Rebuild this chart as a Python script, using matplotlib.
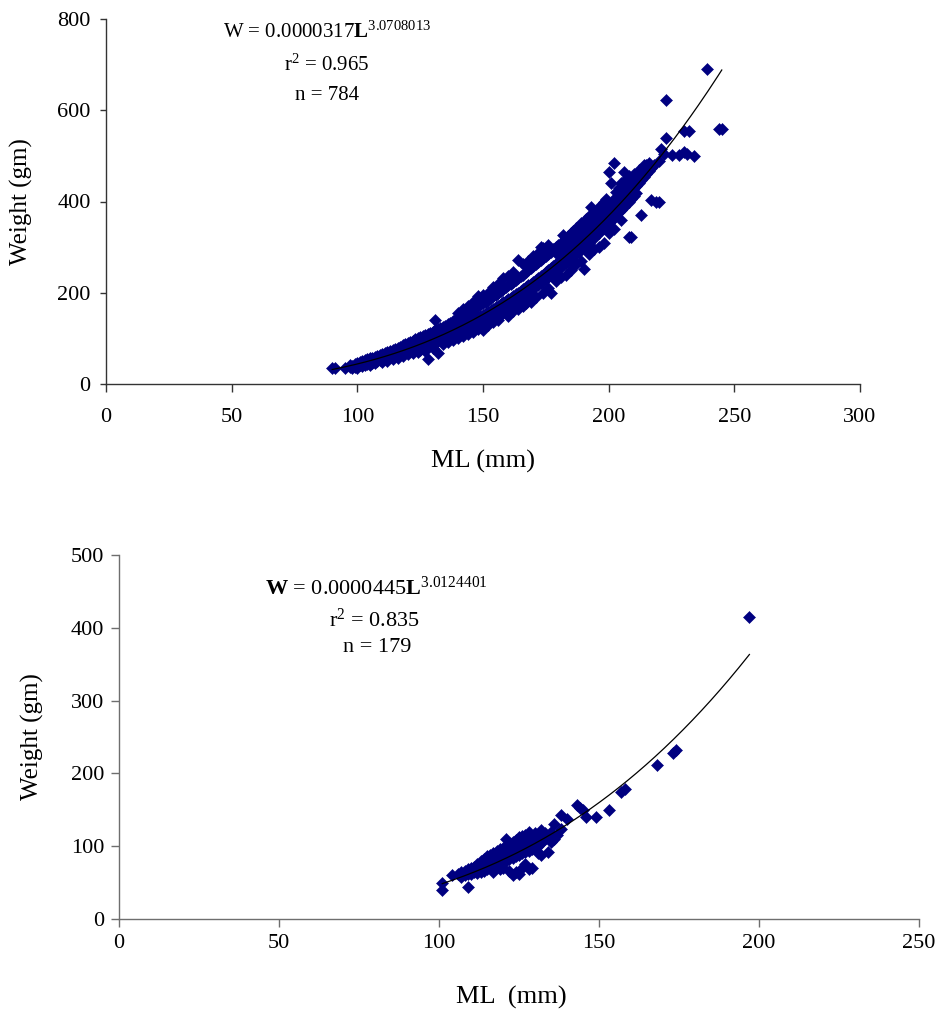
import numpy as np
import matplotlib.pyplot as plt

plt.rcParams['font.family'] = ['Liberation Serif', 'DejaVu Serif']
plt.rcParams['mathtext.fontset'] = 'custom'
plt.rcParams['mathtext.rm'] = 'Liberation Serif'
plt.rcParams['mathtext.it'] = 'Liberation Serif:italic'
plt.rcParams['mathtext.bf'] = 'Liberation Serif:bold'

# -------------------------------
# Data: mantle length (mm) and weight (gm)
# -------------------------------

# top panel (n = 784), weights grouped by length
top_len = [
    90, 91, 95, 97, 98, 99, 100, 101, 102, 103,
    104, 105, 106, 107, 108, 109, 110, 111, 112, 113,
    114, 115, 116, 117, 118, 119, 120, 121, 122, 123,
    124, 125, 126, 127, 128, 129, 130, 131, 132, 133,
    134, 135, 136, 137, 138, 139, 140, 141, 142, 143,
    144, 145, 146, 147, 148, 149, 150, 151, 152, 153,
    154, 155, 156, 157, 158, 159, 160, 161, 162, 163,
    164, 165, 166, 167, 168, 169, 170, 171, 172, 173,
    174, 175, 176, 177, 178, 179, 180, 181, 182, 183,
    184, 185, 186, 187, 188, 189, 190, 191, 192, 193,
    194, 195, 196, 197, 198, 199, 200, 201, 202, 203,
    204, 205, 206, 207, 208, 209, 210, 211, 212, 213,
    214, 215, 216, 217, 218, 219, 220, 221, 222, 223,
    225, 228, 230, 231, 232, 234, 239, 244, 245,
]
top_wts = [
    [35], [36], [36], [38, 42], [35, 40], [44, 38], [40, 46, 36], [42, 48], [45, 40, 50], [47, 42, 52],
    [44, 50, 55], [48, 53, 42, 58], [50, 56, 46], [52, 60, 47], [55, 50, 62], [57, 52, 64], [58, 54, 66, 48], [60, 55, 68], [62, 57, 70, 50], [64, 59, 72],
    [66, 60, 75, 55], [68, 62, 77], [70, 64, 79, 58], [72, 66, 82], [74, 68, 85, 62], [76, 70, 87], [78, 72, 90, 65], [80, 73, 92], [82, 75, 95, 68], [84, 77, 98],
    [86, 79, 100, 70], [88, 81, 103, 75], [90, 83, 105], [92, 85, 108, 72], [94, 87, 110, 55], [96, 89, 112], [98, 90, 115, 80], [100, 93, 118, 140], [103, 95, 120, 68], [105, 97, 123],
    [107, 99, 126, 88], [110, 101, 128], [112, 104, 131, 92], [115, 106, 134], [117, 108, 137, 96], [120, 111, 140], [123, 113, 143, 100, 155], [125, 116, 146, 108], [128, 118, 150, 105, 165], [131, 121, 153, 115],
    [134, 124, 156, 110, 172], [137, 127, 160, 120], [140, 130, 163, 115, 180], [143, 133, 166, 126], [146, 136, 170, 120, 192], [149, 139, 173, 132], [152, 142, 177, 118, 195], [155, 145, 180, 137], [158, 148, 184, 130, 200], [162, 151, 188, 143],
    [165, 154, 192, 135, 212], [168, 157, 196, 150], [172, 160, 200, 140, 220], [175, 163, 204, 156], [179, 166, 208, 155, 233], [182, 170, 212, 163], [186, 173, 216, 150, 236], [189, 177, 220, 170], [193, 180, 224, 160, 245], [197, 184, 228, 176],
    [200, 187, 232, 272, 165], [204, 191, 236, 182], [208, 194, 240, 170, 262], [212, 198, 245, 177, 188], [216, 202, 250, 270], [220, 206, 254, 180, 196], [224, 210, 258, 280], [228, 214, 262, 190], [232, 218, 267, 288], [236, 222, 272, 300],
    [240, 226, 276, 200, 298], [245, 230, 281], [249, 234, 286, 210, 305], [254, 238, 290, 199], [258, 242, 295], [262, 247, 300, 225], [267, 251, 305, 283], [272, 256, 310, 235, 289], [277, 260, 327, 294], [281, 265, 320, 240, 298],
    [286, 270, 325, 303], [291, 275, 330, 250, 309], [296, 280, 336, 314], [301, 285, 342, 262, 319], [306, 290, 347, 325], [311, 295, 353, 270, 330], [315, 300, 350, 252, 334], [320, 305, 362, 340], [326, 310, 368, 285, 346], [331, 315, 389, 351],
    [337, 320, 375, 295, 357], [342, 326, 380, 362], [348, 331, 386, 300, 369], [353, 337, 392, 374], [358, 342, 398, 310, 380], [364, 348, 405, 386], [369, 353, 465, 330, 391], [375, 358, 440, 397], [381, 364, 484, 340, 404], [387, 370, 420, 410],
    [392, 376, 430, 415], [398, 382, 440, 360, 422], [404, 388, 465, 428], [410, 394, 450, 435], [416, 400, 455, 323, 441], [422, 406, 322, 448], [429, 412, 460, 455], [435, 418], [441, 470], [447, 370],
    [454, 480], [461, 480], [467, 484], [403, 474], [480], [400], [488, 400], [515], [505], [540, 622],
    [502], [502], [555, 508], [505], [555], [500], [690], [560], [560],
]

# bottom panel (n = 179)
bot_len = [
    101, 104, 106, 107, 108, 109, 110, 111, 112, 113,
    114, 115, 116, 117, 118, 119, 120, 121, 122, 123,
    124, 125, 126, 127, 128, 129, 130, 131, 132, 133,
    134, 135, 136, 137, 138, 140, 143, 144, 145, 146,
    149, 153, 157, 158, 168, 173, 174, 197,
]
bot_wts = [
    [40, 50], [60], [62], [58, 64], [60, 66], [44, 62, 68], [62, 66, 70], [64, 68, 72], [63, 67, 72, 76], [65, 70, 75, 80],
    [66, 72, 78, 83], [68, 74, 80, 86], [70, 76, 82, 88], [72, 78, 85, 90, 65], [74, 80, 87, 93], [76, 83, 90, 96, 68], [78, 85, 92, 98, 70], [80, 88, 95, 100, 110], [82, 90, 97, 104, 66], [84, 92, 100, 106, 60],
    [86, 94, 102, 108, 65], [88, 96, 104, 112, 62], [90, 98, 106, 114, 70], [92, 100, 108, 116, 75], [94, 102, 110, 120, 68], [96, 104, 112, 70], [98, 106, 115, 118], [100, 108, 116, 90], [104, 112, 122, 88], [110, 118],
    [92, 112], [106, 120], [110, 130], [115], [124, 143], [138], [156], [152], [150], [140],
    [140], [150], [175], [178], [211], [228], [232], [415],
]

# power fits W = a * L^b, as printed on the chart
top_a, top_b = 0.0000317, 3.0708013
bot_a, bot_b = 0.0000445, 3.0124401


def expand(lengths, weights):
    ml = np.repeat(lengths, [len(w) for w in weights])
    wt = np.concatenate([np.array(w, dtype=float) for w in weights])
    return ml, wt


top_ml, top_wt = expand(top_len, top_wts)
bot_ml, bot_wt = expand(bot_len, bot_wts)

navy = '#000080'

fig = plt.figure(figsize=(9.39, 10.19), dpi=100)
ax1 = fig.add_axes([106 / 939, 1 - 384 / 1019, 754 / 939, 365 / 1019])
ax2 = fig.add_axes([119 / 939, 1 - 919 / 1019, 800 / 939, 364 / 1019])


def style_axes(ax, spine_color, xpad, ypad, xlen, ylen):
    for side in ['top', 'right']:
        ax.spines[side].set_visible(False)
    for side in ['left', 'bottom']:
        ax.spines[side].set_color(spine_color)
        ax.spines[side].set_linewidth(1.0)
    ax.tick_params(axis='x', direction='out', length=xlen, width=1.0,
                   color=spine_color, pad=xpad, labelsize=16)
    ax.tick_params(axis='y', direction='out', length=ylen, width=1.0,
                   color=spine_color, pad=ypad, labelsize=16)


# -------------------------------
# Top panel
# -------------------------------
ax1.plot(top_ml, top_wt, 'D', ms=6.3, color=navy, mec=navy, mew=0.4,
         linestyle='none', zorder=2)
fit_l = np.linspace(top_ml.min(), top_ml.max(), 200)
ax1.plot(fit_l, top_a * fit_l ** top_b, color='black', lw=0.9, zorder=3)
ax1.set_xlim(0, 300)
ax1.set_ylim(0, 800)
ax1.set_xticks(range(0, 301, 50))
ax1.set_yticks(range(0, 801, 200))
style_axes(ax1, '#333333', 12, 7, 5.5, 4)
ax1.set_xlabel('ML (mm)', fontsize=19)
ax1.set_ylabel('Weight (gm)', fontsize=18)
ax1.xaxis.set_label_coords(0.5, -0.18)
ax1.yaxis.set_label_coords(-0.097, 0.5)

fig.text(327 / 939, 1 - 38 / 1019, r'W = 0.0000317$\mathbf{L}^{3.0708013}$',
         ha='center', va='baseline', fontsize=15)
fig.text(327 / 939, 1 - 71 / 1019, r'r$^2$ = 0.965', ha='center', va='baseline', fontsize=15)
fig.text(327 / 939, 1 - 100 / 1019, 'n = 784', ha='center', va='baseline', fontsize=15)

# -------------------------------
# Bottom panel
# -------------------------------
ax2.plot(bot_ml, bot_wt, 'D', ms=6.3, color=navy, mec=navy, mew=0.4,
         linestyle='none', zorder=2)
fit_l2 = np.linspace(bot_ml.min(), bot_ml.max(), 200)
ax2.plot(fit_l2, bot_a * fit_l2 ** bot_b, color='black', lw=0.9, zorder=3)
ax2.set_xlim(0, 250)
ax2.set_ylim(0, 500)
ax2.set_xticks(range(0, 251, 50))
ax2.set_yticks(range(0, 501, 100))
style_axes(ax2, '#6e6e6e', 5, 5, 5.8, 5.8)
ax2.set_xlabel('ML  (mm)', fontsize=19)
ax2.set_ylabel('Weight (gm)', fontsize=18)
ax2.xaxis.set_label_coords(0.49, -0.185)
ax2.yaxis.set_label_coords(-0.094, 0.5)

fig.text(376 / 939, 1 - 595 / 1019, r'$\mathbf{W}$ = 0.0000445$\mathbf{L}^{3.0124401}$',
         ha='center', va='baseline', fontsize=16)
fig.text(374 / 939, 1 - 627 / 1019, r'r$^2$ = 0.835', ha='center', va='baseline', fontsize=16)
fig.text(377 / 939, 1 - 652 / 1019, 'n = 179', ha='center', va='baseline', fontsize=16)

fig.savefig('out.png', dpi=100, facecolor='white')
